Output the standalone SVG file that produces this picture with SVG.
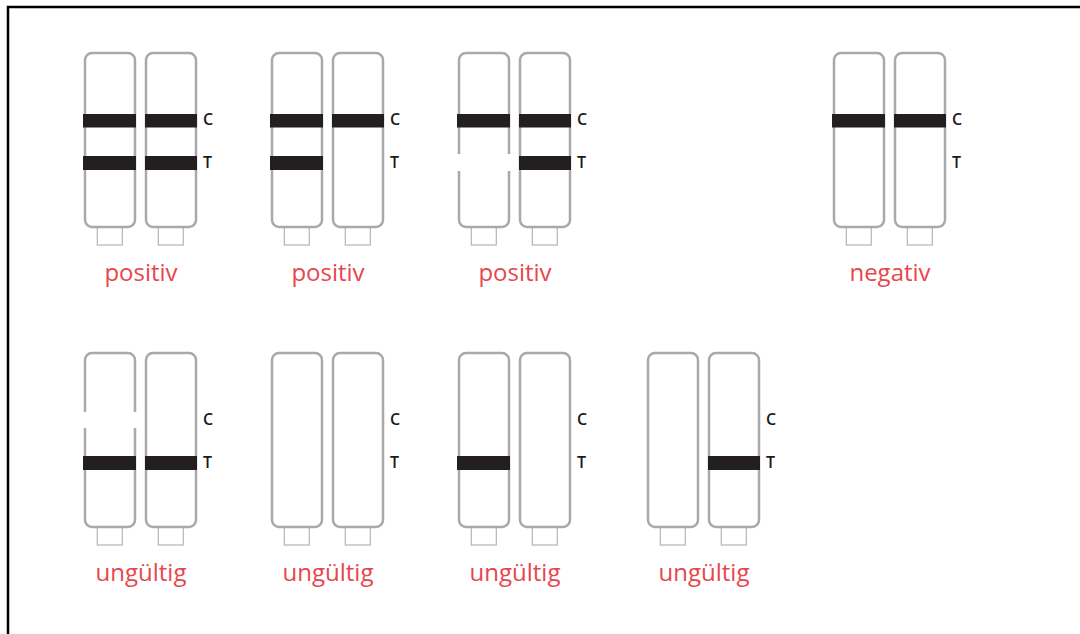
<svg xmlns="http://www.w3.org/2000/svg" width="1080" height="634" viewBox="0 0 1080 634">
<defs>
<style>
.strip{fill:#fff;stroke:#a9a9a9;stroke-width:2.5}
.stem{fill:#fff;stroke:#b5b5b5;stroke-width:1.2}
.band{fill:#231f20}
.gap{fill:#fff}
.ct{font-family:"Open Sans","Liberation Sans",sans-serif;font-size:16px;font-weight:600;fill:#1a1a1a;dominant-baseline:central}
.lbl{font-family:"Open Sans","Liberation Sans",sans-serif;font-size:24px;font-weight:400;fill:#e8464e;text-anchor:middle}
</style>
<g id="strip">
<rect class="stem" x="12.3" y="173" width="25" height="19"/>
<rect class="strip" x="0" y="0" width="50" height="174" rx="7"/>
</g>
<g id="pair">
<use href="#strip" x="0" y="0"/>
<use href="#strip" x="61" y="0"/>
<text class="ct" x="118" y="66">C</text>
<text class="ct" x="118" y="109">T</text>
</g>
</defs>
<rect x="8" y="7" width="1090" height="650" fill="#fff" stroke="#000" stroke-width="2.5"/>
<g id="p1">
<use href="#pair" x="85" y="53"/>
<rect class="band" x="83" y="114" width="53" height="13.5"/>
<rect class="band" x="145" y="114" width="52" height="13.5"/>
<rect class="band" x="83" y="156" width="53" height="14"/>
<rect class="band" x="145" y="156" width="52" height="14"/>
<text class="lbl" x="141" y="281">positiv</text>
</g>
<g id="p2">
<use href="#pair" x="272" y="53"/>
<rect class="band" x="270" y="114" width="53" height="13.5"/>
<rect class="band" x="332" y="114" width="52" height="13.5"/>
<rect class="band" x="270" y="156" width="53" height="14"/>
<text class="lbl" x="328" y="281">positiv</text>
</g>
<g id="p3">
<use href="#pair" x="459" y="53"/>
<rect class="band" x="457" y="114" width="53" height="13.5"/>
<rect class="band" x="519" y="114" width="52" height="13.5"/>
<rect class="band" x="519" y="156" width="52" height="14"/>
<rect class="gap" x="456" y="154" width="56" height="17"/>
<text class="lbl" x="515" y="281">positiv</text>
</g>
<g id="n1">
<use href="#pair" x="834" y="53"/>
<rect class="band" x="832" y="114" width="53" height="13.5"/>
<rect class="band" x="894" y="114" width="52" height="13.5"/>
<text class="lbl" x="890" y="281">negativ</text>
</g>
<g id="u1">
<use href="#pair" x="85" y="353"/>
<rect class="gap" x="82" y="412" width="56" height="16"/>
<rect class="band" x="83" y="456" width="53" height="14"/>
<rect class="band" x="145" y="456" width="52" height="14"/>
<text class="lbl" x="141" y="581">ungültig</text>
</g>
<g id="u2">
<use href="#pair" x="272" y="353"/>
<text class="lbl" x="328" y="581">ungültig</text>
</g>
<g id="u3">
<use href="#pair" x="459" y="353"/>
<rect class="band" x="457" y="456" width="53" height="14"/>
<text class="lbl" x="515" y="581">ungültig</text>
</g>
<g id="u4">
<use href="#pair" x="648" y="353"/>
<rect class="band" x="708" y="456" width="52" height="14"/>
<text class="lbl" x="704" y="581">ungültig</text>
</g>
<g id="connectors"/>
</svg>
